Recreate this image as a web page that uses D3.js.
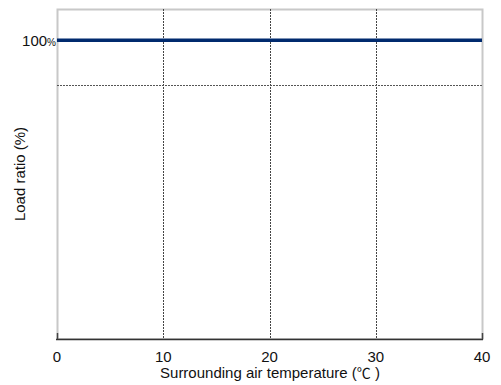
<!DOCTYPE html>
<html>
<head>
<meta charset="utf-8">
<script src="https://cdn.jsdelivr.net/npm/d3@7"></script>
<style>
  body { margin: 0; background: #fff; }
  text { font-family: "Liberation Sans", Arial, sans-serif; fill: #111; }
</style>
</head>
<body>
<div id="chart"></div>
<script>
var xTicks = [0, 10, 20, 30, 40];
var gridTemps = [10, 20, 30];
var gridLoads = [85];
var temps = [0, 40];
var loads = [100, 100];

var width = 501;
var height = 385;
var plotLeft = 57, plotRight = 482, plotTop = 9, plotBottom = 339;

var x = d3.scaleLinear().domain([0, 40]).range([plotLeft, plotRight]);
var y = d3.scaleLinear().domain([0, 110.5]).range([plotBottom, plotTop]);

var svg = d3.select("#chart").append("svg")
    .attr("width", width)
    .attr("height", height);

// frame
svg.append("rect")
    .attr("x", plotLeft + 0.5).attr("y", plotTop + 0.5)
    .attr("width", plotRight - plotLeft).attr("height", plotBottom - plotTop - 0.5)
    .attr("fill", "none")
    .attr("stroke", "#c8c8c8")
    .attr("stroke-width", 2);

// grid
svg.selectAll(".vgrid")
    .data(gridTemps)
    .enter()
    .append("line")
    .attr("x1", d => Math.round(x(d)) + 0.5)
    .attr("x2", d => Math.round(x(d)) + 0.5)
    .attr("y1", plotTop)
    .attr("y2", plotBottom)
    .attr("stroke", "#444")
    .attr("stroke-dasharray", "2,1");

svg.selectAll(".hgrid")
    .data(gridLoads)
    .enter()
    .append("line")
    .attr("x1", plotLeft)
    .attr("x2", plotRight)
    .attr("y1", d => Math.round(y(d)) + 0.5)
    .attr("y2", d => Math.round(y(d)) + 0.5)
    .attr("stroke", "#555")
    .attr("stroke-dasharray", "2,1");

// bottom axis line
svg.append("line")
    .attr("x1", plotLeft - 1).attr("x2", plotRight + 1)
    .attr("y1", plotBottom + 0.5).attr("y2", plotBottom + 0.5)
    .attr("stroke", "#333")
    .attr("stroke-width", 1.5);
svg.append("line")
    .attr("x1", plotLeft + 0.5).attr("x2", plotLeft + 0.5)
    .attr("y1", plotBottom - 6).attr("y2", plotBottom)
    .attr("stroke", "#444").attr("stroke-width", 1.5);
svg.append("line")
    .attr("x1", plotRight + 0.5).attr("x2", plotRight + 0.5)
    .attr("y1", plotBottom - 6).attr("y2", plotBottom)
    .attr("stroke", "#444").attr("stroke-width", 1.5);

// data line
var line = d3.line()
    .x(d => x(d[0]))
    .y(d => y(d[1]));

svg.append("path")
    .datum(d3.zip(temps, loads))
    .attr("d", line)
    .attr("fill", "none")
    .attr("stroke", "#002a6e")
    .attr("stroke-width", 3.5);

// x tick labels
svg.selectAll(".xt")
    .data(xTicks)
    .enter()
    .append("text")
    .attr("x", d => x(d))
    .attr("y", 362)
    .attr("text-anchor", "middle")
    .attr("font-size", 15)
    .text(d => d);

// y label 100%
var t = svg.append("text")
    .attr("x", plotLeft - 1)
    .attr("y", y(100) + 6)
    .attr("text-anchor", "end")
    .attr("font-size", 15);
t.append("tspan").text("100");
t.append("tspan").attr("font-size", 10).text("%");

// axis titles
var xt = svg.append("text")
    .attr("x", 270)
    .attr("y", 378)
    .attr("text-anchor", "middle")
    .attr("font-size", 15);
xt.append("tspan").text("Surrounding air temperature (");
xt.append("tspan").attr("font-family", "'Noto Sans CJK JP'").attr("font-size", 14).text("℃");
xt.append("tspan").text(" )");

svg.append("text")
    .attr("transform", "translate(25," + ((plotTop + plotBottom) / 2) + ") rotate(-90)")
    .attr("text-anchor", "middle")
    .attr("font-size", 15)
    .text("Load ratio (%)");
</script>
</body>
</html>
